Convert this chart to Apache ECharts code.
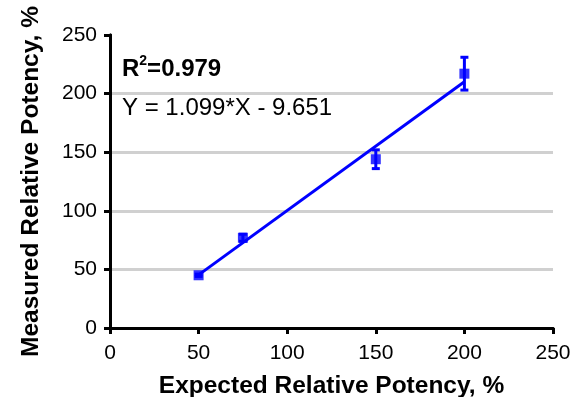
<!DOCTYPE html>
<html>
<head>
<meta charset="utf-8">
<script src="https://cdn.jsdelivr.net/npm/echarts@6/dist/echarts.min.js"></script>
<style>
  html, body { margin: 0; padding: 0; background: #fff; }
  #chart { width: 574px; height: 397px; }
</style>
</head>
<body>
<div id="chart"></div>
<script>
// Expected vs measured relative potency (mean ± error)
const expected = [50, 75, 150, 200];
const measured = [45, 77, 144, 217];
const errors = [1, 3, 8, 14];
const xTicks = [0, 50, 100, 150, 200, 250];
const yTicks = [0, 50, 100, 150, 200, 250];

// Linear fit reported on the chart
const fitSlope = 1.099;
const fitIntercept = -9.651;
const rSquared = '0.979';
const fitRange = [50, 200];

const blue = '#0000ff';
const font = 'Liberation Sans, Arial, sans-serif';

const chart = echarts.init(document.getElementById('chart'));

const fitLine = fitRange.map(x => [x, fitSlope * x + fitIntercept]);

// frame line shared by the bottom/left axes and the plain top/right edges
const frame = { show: true, lineStyle: { color: '#000', width: 3 } };
const tick = { show: true, length: 6, lineStyle: { color: '#000', width: 3 } };
const nameStyle = { fontFamily: font, fontSize: 24.5, fontWeight: 'bold', color: '#000' };
const labelStyle = { fontFamily: font, fontSize: 21, color: '#000' };

chart.setOption({
  animation: false,
  grid: { left: 110, right: 21, top: 35, bottom: 69, containLabel: false, outerBoundsMode: 'none' },
  xAxis: [
    {
      type: 'value', min: xTicks[0], max: xTicks[xTicks.length - 1], interval: 50,
      name: 'Expected Relative Potency, %', nameLocation: 'middle', nameGap: 46,
      nameTextStyle: nameStyle,
      axisLine: frame, axisTick: tick,
      axisLabel: Object.assign({ margin: 15 }, labelStyle),
      splitLine: { show: false }
    },
    {
      type: 'value', position: 'top', min: xTicks[0], max: xTicks[xTicks.length - 1], interval: 50,
      axisLine: frame, axisTick: { show: false }, axisLabel: { show: false }, splitLine: { show: false }
    }
  ],
  yAxis: [
    {
      type: 'value', min: yTicks[0], max: yTicks[yTicks.length - 1], interval: 50,
      name: 'Measured Relative Potency, %', nameLocation: 'middle', nameGap: 66,
      nameTextStyle: nameStyle,
      axisLine: frame, axisTick: tick,
      axisLabel: Object.assign({ margin: 13 }, labelStyle),
      splitLine: {
        show: true, showMinLine: false, showMaxLine: false,
        lineStyle: { color: '#d0d0d0', width: 3 }
      }
    },
    {
      type: 'value', position: 'right', min: yTicks[0], max: yTicks[yTicks.length - 1], interval: 50,
      axisLine: frame, axisTick: { show: false }, axisLabel: { show: false }, splitLine: { show: false }
    }
  ],
  graphic: [
    {
      type: 'text', left: 122, top: 54,
      style: {
        text: '{b|R}{sup|2}{b|=' + rSquared + '}',
        rich: {
          b: { fontFamily: font, fontSize: 24, fontWeight: 'bold', fill: '#000', verticalAlign: 'bottom' },
          sup: { fontFamily: font, fontSize: 14, fontWeight: 'bold', fill: '#000', verticalAlign: 'top', padding: [0, 0, 13, 0] }
        }
      }
    },
    {
      type: 'text', left: 122, top: 96,
      style: {
        text: 'Y = ' + fitSlope + '*X - ' + Math.abs(fitIntercept),
        fontFamily: font, fontSize: 24, fill: '#000'
      }
    }
  ],
  series: [
    {
      type: 'line', data: fitLine, symbol: 'none', z: 3,
      lineStyle: { color: blue, width: 3 }
    },
    {
      type: 'custom', z: 4,
      data: expected.map((x, i) => [x, measured[i], errors[i]]),
      renderItem: function (params, api) {
        const x = api.value(0), y = api.value(1), e = api.value(2);
        const top = api.coord([x, y + e]);
        const bot = api.coord([x, y - e]);
        const hw = 4;
        const style = { stroke: blue, lineWidth: 3 };
        return {
          type: 'group',
          children: [
            { type: 'line', shape: { x1: top[0], y1: top[1], x2: bot[0], y2: bot[1] }, style: style },
            { type: 'line', shape: { x1: top[0] - hw, y1: top[1], x2: top[0] + hw, y2: top[1] }, style: style },
            { type: 'line', shape: { x1: bot[0] - hw, y1: bot[1], x2: bot[0] + hw, y2: bot[1] }, style: style }
          ]
        };
      }
    },
    {
      type: 'scatter', z: 5,
      data: expected.map((x, i) => [x, measured[i]]),
      symbol: 'rect', symbolSize: 10,
      itemStyle: { color: blue }
    }
  ]
});
</script>
</body>
</html>
